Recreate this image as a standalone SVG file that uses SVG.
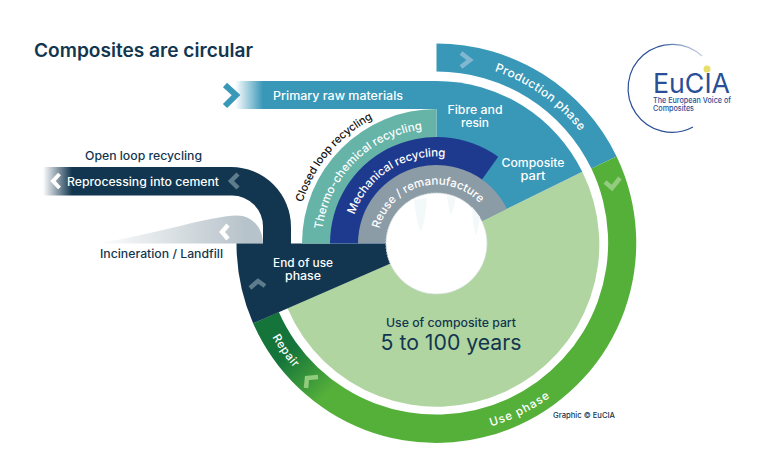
<svg xmlns="http://www.w3.org/2000/svg" width="768" height="469" viewBox="0 0 768 469">
<style>
text{font-family:"Inter","Liberation Sans",sans-serif;font-weight:500;fill:#fff;font-size:11.5px}
.c{text-anchor:middle}
.d{fill:#12364f}
.chev{fill:none;stroke-width:4.5;stroke-linejoin:miter}
</style>
<defs>
<linearGradient id="gBand" gradientUnits="userSpaceOnUse" x1="235" y1="0" x2="263" y2="0"><stop offset="0" stop-color="#fff"/><stop offset="1" stop-color="#3997b8"/></linearGradient>
<linearGradient id="gOpen" gradientUnits="userSpaceOnUse" x1="43" y1="0" x2="72" y2="0"><stop offset="0" stop-color="#fff"/><stop offset="1" stop-color="#12364f"/></linearGradient>
<linearGradient id="gInc" gradientUnits="userSpaceOnUse" x1="95" y1="0" x2="245" y2="0"><stop offset="0" stop-color="#fff"/><stop offset="1" stop-color="#b7c3ca"/></linearGradient>
<linearGradient id="gRing" gradientUnits="userSpaceOnUse" x1="285" y1="355" x2="325" y2="396"><stop offset="0" stop-color="#14743a"/><stop offset="1" stop-color="#55b03a"/></linearGradient>
<linearGradient id="gLogo" gradientUnits="userSpaceOnUse" x1="628" y1="100" x2="705" y2="50"><stop offset="0.6" stop-color="#2a4f97"/><stop offset="1" stop-color="#dfe4ee"/></linearGradient>
<path id="pProd" d="M453.2 62.3A182 182 0 0 1 601.8 167.3"/>
<path id="pClosed" d="M296.5 243.5A140 140 0 0 1 412.2 105.6"/>
<path id="pThermo" d="M321.5 243.5A115 115 0 0 1 436.5 128.5"/>
<path id="pMech" d="M349.6 239.7A87 87 0 0 1 469.8 163.1"/>
<path id="pReuse" d="M378.3 253A59 59 0 0 1 492.2 224"/>
<path id="pUse" d="M408.3 432.4A191 191 0 0 0 604.4 334.6"/>
<path id="pRepair" d="M250.6 277.6A189 189 0 0 0 343.1 407.8"/>
</defs>
<text id="title" x="34" y="56.500" textLength="219" lengthAdjust="spacingAndGlyphs" class="d" style="font-size:18.500px;font-weight:600">Composites are circular</text>
<g id="connectors">
<path id="primary-band" d="M235 81H437V109H235Z" fill="url(#gBand)"/>
<path id="open-band" d="M43 167H231A60 60 0 0 1 291 227V244H263V227A31 31 0 0 0 232 195.500H43Z" fill="url(#gOpen)"/>
<path id="incineration-band" d="M95 243.500C150 236 208 216 237 215.500C252 215.500 263 228 263 243.500Z" fill="url(#gInc)"/>
<polyline class="chev" stroke="#3997b8" points="225,85 236,95 225,106" style="stroke-width:6"/>
<polyline class="chev" stroke="#fff" points="59.500,174 53,181 59.500,188" style="stroke-width:4"/>
<polyline class="chev" stroke="#5f7c8c" points="238,174 231,181 238,188"/>
<polyline class="chev" stroke="#fff" points="228,225 222,232 228,239"/>
</g>
<g id="production-phase">
<path d="M436.500 43.500A200 200 0 0 1 616.600 156.500L591.400 168.600A172 172 0 0 0 436.500 71.500Z" fill="#3997b8"/>
<polyline class="chev" stroke="#80b8cf" points="461,53 470,60 461,67"/>
<text style="font-size:12px"><textPath href="#pProd" startOffset="50%" text-anchor="middle" textLength="106" lengthAdjust="spacing">Production phase</textPath></text>
</g>
<g id="use-phase">
<path d="M616.600 156.500A200 200 0 1 1 253.100 323.300L278.800 312.100A172 172 0 1 0 591.400 168.600Z" fill="url(#gRing)"/>
<polyline class="chev" stroke="#93cb7f" points="605,182 612,188 620,178"/>
<polyline class="chev" stroke="#93cb7f" points="306,388 307,378 318,377"/>
<text><textPath href="#pUse" startOffset="50%" text-anchor="middle" textLength="66" lengthAdjust="spacing">Use phase</textPath></text>
<text><textPath href="#pRepair" startOffset="50%" text-anchor="middle" textLength="38" lengthAdjust="spacing">Repair</textPath></text>
</g>
<g id="use-of-part">
<path d="M582.300 171.800A162.500 162.500 0 1 1 287.500 308.300L436.500 243.500Z" fill="#b0d5a1"/>
<text x="451" y="327" class="c d" textLength="130" lengthAdjust="spacingAndGlyphs" style="font-size:12px">Use of composite part</text>
<text x="451" y="350" class="c d" textLength="141" lengthAdjust="spacingAndGlyphs" style="font-size:21px;font-weight:400">5 to 100 years</text>
</g>
<g id="end-of-use">
<path d="M253.100 323.300A200 200 0 0 1 236.500 243.500H436.500Z" fill="#12364f"/>
<polyline class="chev" stroke="#5f7c8c" points="250,288 258,281 265,286"/>
<text x="303" y="267" class="c" textLength="60" lengthAdjust="spacingAndGlyphs">End of use</text>
<text x="303" y="280" class="c" textLength="36" lengthAdjust="spacingAndGlyphs">phase</text>
</g>
<g id="composite-part">
<path d="M436.500 81A162.500 162.500 0 0 1 582.300 171.800L436.500 243.500Z" fill="#3997b8"/>
<text x="475" y="114" class="c" textLength="55" lengthAdjust="spacingAndGlyphs">Fibre and</text>
<text x="475" y="127" class="c" textLength="28" lengthAdjust="spacingAndGlyphs">resin</text>
<text x="533" y="167" class="c" textLength="63" lengthAdjust="spacingAndGlyphs">Composite</text>
<text x="533" y="180" class="c" textLength="25" lengthAdjust="spacingAndGlyphs">part</text>
</g>
<g id="thermo-chemical">
<path d="M302 243.500A134.500 134.500 0 0 1 436.500 109V243.500Z" fill="#66b3a8"/>
<text><textPath href="#pThermo" startOffset="50%" text-anchor="middle" textLength="152" lengthAdjust="spacing">Thermo-chemical recycling</textPath></text>
</g>
<g id="mechanical">
<path d="M330 243.500A106.500 106.500 0 0 1 498.200 156.700L436.500 243.500Z" fill="#1e3a8e"/>
<text><textPath href="#pMech" startOffset="50%" text-anchor="middle" textLength="116" lengthAdjust="spacing">Mechanical recycling</textPath></text>
</g>
<g id="reuse">
<path d="M358 243.500A78.500 78.500 0 0 1 506.900 208.800L436.500 243.500Z" fill="#8c9ca6"/>
<text><textPath href="#pReuse" startOffset="50%" text-anchor="middle" textLength="126" lengthAdjust="spacing">Reuse / remanufacture</textPath></text>
</g>
<g id="hub">
<circle cx="436.500" cy="243.500" r="50.500" fill="#fff" stroke="#d5e0df" stroke-dasharray="2 1"/>
<path d="M414 200Q417 225 421 232Q425 222 427 198ZM447 196Q449 210 451 215Q454 208 456 197ZM472 207Q473 225 476 236Q478 228 480 217Z" fill="#f3f8f8"/>
</g>
<g id="labels">
<text x="143.500" y="160" class="c d" textLength="117" lengthAdjust="spacingAndGlyphs">Open loop recycling</text>
<text x="67" y="186" textLength="152" lengthAdjust="spacingAndGlyphs">Reprocessing into cement</text>
<text x="100" y="258" class="d" textLength="123" lengthAdjust="spacingAndGlyphs">Incineration / Landfill</text>
<text x="273" y="99.500" textLength="130" lengthAdjust="spacingAndGlyphs">Primary raw materials</text>
<text style="fill:#111;font-size:11px"><textPath href="#pClosed" startOffset="50%" text-anchor="middle" textLength="112" lengthAdjust="spacing">Closed loop recycling</textPath></text>
<text x="553" y="418" class="d" textLength="62" lengthAdjust="spacingAndGlyphs" style="font-size:7.500px">Graphic © EuCIA</text>
</g>
<g id="logo">
<path d="M693 127A44 44 0 1 1 702 56" fill="none" stroke="url(#gLogo)" stroke-width="1.200"/>
<circle cx="707" cy="69" r="3.500" fill="#e8de6a"/>
<text x="653" y="93" textLength="77" lengthAdjust="spacingAndGlyphs" style="font-size:27px;font-weight:400;fill:#2a4f97">EuCIA</text>
<text x="653" y="102.500" textLength="78" lengthAdjust="spacingAndGlyphs" style="font-size:7.500px;fill:#2a4f97">The European Voice of</text>
<text x="653" y="110.500" textLength="41" lengthAdjust="spacingAndGlyphs" style="font-size:7.500px;fill:#2a4f97">Composites</text>
</g>
</svg>
